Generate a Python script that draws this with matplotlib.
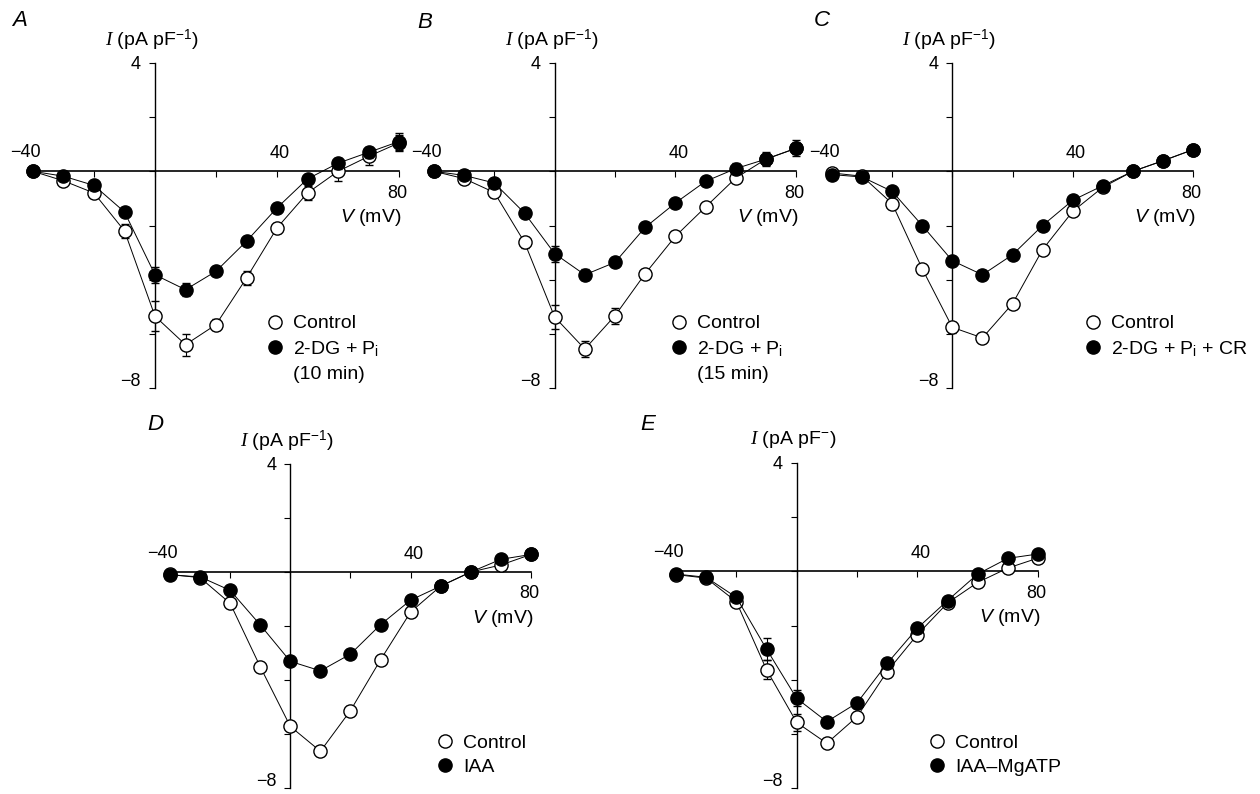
import numpy as np
import matplotlib
matplotlib.use('Agg')
import matplotlib.pyplot as plt
from matplotlib.lines import Line2D

plt.rcParams['font.family'] = ['Liberation Sans', 'DejaVu Sans']
plt.rcParams['mathtext.fontset'] = 'custom'
plt.rcParams['mathtext.rm'] = 'Liberation Sans'
plt.rcParams['mathtext.it'] = 'Liberation Serif:italic'
plt.rcParams['mathtext.sf'] = 'Liberation Sans:italic'

# test potentials (mV)
V = [-40, -30, -20, -10, 0, 10, 20, 30, 40, 50, 60, 70, 80]

# current density (pA/pF), mean and SEM
A_ctrl = [0.0, -0.35, -0.8, -2.2, -5.35, -6.4, -5.66, -3.94, -2.09, -0.8, 0.0, 0.55, 1.05]
A_ctrl_err = [0.05, 0.1, 0.15, 0.25, 0.55, 0.4, 0.2, 0.25, 0.2, 0.25, 0.35, 0.3, 0.3]
A_trt = [0.0, -0.18, -0.52, -1.5, -3.82, -4.37, -3.69, -2.58, -1.35, -0.28, 0.3, 0.7, 1.1]
A_trt_err = [0.05, 0.1, 0.1, 0.15, 0.3, 0.25, 0.15, 0.15, 0.15, 0.15, 0.2, 0.2, 0.3]

B_ctrl = [0.0, -0.27, -0.78, -2.62, -5.38, -6.56, -5.33, -3.78, -2.4, -1.32, -0.25, 0.45, 0.85]
B_ctrl_err = [0.05, 0.1, 0.15, 0.2, 0.45, 0.3, 0.3, 0.15, 0.15, 0.15, 0.15, 0.2, 0.2]
B_trt = [0.0, -0.15, -0.43, -1.54, -3.04, -3.82, -3.36, -2.07, -1.17, -0.37, 0.1, 0.45, 0.85]
B_trt_err = [0.05, 0.1, 0.1, 0.15, 0.3, 0.2, 0.15, 0.15, 0.15, 0.1, 0.2, 0.25, 0.3]

C_ctrl = [-0.06, -0.18, -1.19, -3.6, -5.76, -6.15, -4.89, -2.89, -1.48, -0.59, 0.0, 0.39, 0.8]
C_ctrl_err = [0.05, 0.05, 0.15, 0.15, 0.2, 0.15, 0.15, 0.15, 0.15, 0.1, 0.1, 0.1, 0.1]
C_trt = [-0.12, -0.21, -0.74, -2.0, -3.3, -3.82, -3.08, -2.0, -1.07, -0.53, 0.0, 0.39, 0.8]
C_trt_err = [0.05, 0.05, 0.1, 0.1, 0.15, 0.1, 0.1, 0.1, 0.1, 0.1, 0.1, 0.1, 0.1]

D_ctrl = [-0.09, -0.21, -1.16, -3.51, -5.72, -6.64, -5.13, -3.25, -1.48, -0.52, 0.0, 0.26, 0.65]
D_ctrl_err = [0.05, 0.05, 0.15, 0.15, 0.15, 0.15, 0.15, 0.15, 0.15, 0.1, 0.1, 0.1, 0.1]
D_trt = [-0.11, -0.18, -0.68, -1.96, -3.31, -3.66, -3.04, -1.95, -1.04, -0.52, 0.0, 0.47, 0.65]
D_trt_err = [0.05, 0.05, 0.1, 0.1, 0.15, 0.1, 0.1, 0.1, 0.1, 0.1, 0.1, 0.1, 0.1]

E_ctrl = [-0.12, -0.25, -1.12, -3.63, -5.58, -6.35, -5.37, -3.7, -2.34, -1.17, -0.41, 0.12, 0.49]
E_ctrl_err = [0.05, 0.05, 0.15, 0.36, 0.3, 0.15, 0.15, 0.15, 0.15, 0.1, 0.1, 0.1, 0.1]
E_trt = [-0.1, -0.22, -0.96, -2.87, -4.69, -5.55, -4.86, -3.4, -2.1, -1.08, -0.1, 0.48, 0.64]
E_trt_err = [0.05, 0.05, 0.1, 0.4, 0.3, 0.15, 0.15, 0.15, 0.15, 0.1, 0.1, 0.1, 0.1]

labels_trt = ['2-DG + P$_\\mathregular{i}$', '2-DG + P$_\\mathregular{i}$',
              '2-DG + P$_\\mathregular{i}$ + CR', 'IAA', 'IAA\u2013MgATP']
extra_line = ['(10 min)', '(15 min)', None, None, None]
ylabels = ['$\\mathit{I}$ (pA pF$^{-1}$)'] * 4 + ['$\\mathit{I}$ (pA pF$^{-}$)']
letters = ['A', 'B', 'C', 'D', 'E']

fig = plt.figure(figsize=(12.6, 7.94), dpi=100)
W, H = 1260, 794

# axes boxes in pixels: left (x=-40), right (x=80), top (y=4), bottom (y=-8)
boxes = [(33, 399, 63, 388), (434, 796, 63, 388), (832, 1193, 63, 388),
         (170, 531, 464, 788), (676, 1038, 463, 788)]
letter_pos = [(20, 20), (425, 22), (822, 20), (155, 425), (648, 425)]
legend_pos = [(0.637, 0.225), (0.652, 0.225), (0.698, 0.225), (0.737, 0.166), (0.696, 0.166)]

data = [(A_ctrl, A_ctrl_err, A_trt, A_trt_err), (B_ctrl, B_ctrl_err, B_trt, B_trt_err),
        (C_ctrl, C_ctrl_err, C_trt, C_trt_err), (D_ctrl, D_ctrl_err, D_trt, D_trt_err),
        (E_ctrl, E_ctrl_err, E_trt, E_trt_err)]

for i, (l, r, t, b) in enumerate(boxes):
    ax = fig.add_axes([l / W, (H - b) / H, (r - l) / W, (b - t) / H])
    ctrl, ctrl_err, trt, trt_err = data[i]

    ax.errorbar(V, ctrl, yerr=ctrl_err, color='black', lw=0.7, marker='o', ms=9.5,
                mfc='white', mec='black', mew=1.0, elinewidth=0.8, capsize=3, capthick=0.8,
                clip_on=False, zorder=3)
    ax.errorbar(V, trt, yerr=trt_err, color='black', lw=0.7, marker='o', ms=9.5,
                mfc='black', mec='black', mew=1.0, elinewidth=0.8, capsize=3, capthick=0.8,
                clip_on=False, zorder=4)

    ax.set_xlim(-40, 80)
    ax.set_ylim(-8, 4)
    ax.spines['left'].set_position(('data', 0))
    ax.spines['bottom'].set_position(('data', 0))
    ax.spines['top'].set_visible(False)
    ax.spines['right'].set_visible(False)
    ax.spines['left'].set_linewidth(1.0)
    ax.spines['bottom'].set_linewidth(1.2)
    ax.patch.set_visible(False)

    ax.set_yticks([-8, -6, -4, -2, 0, 2, 4])
    ax.set_yticklabels([])
    ax.set_xticks([-20, 0, 20, 40, 60, 80])
    ax.set_xticklabels([])
    ax.tick_params(axis='both', direction='out', length=4, width=0.8)

    # axis numbers placed as in the original figure
    ax.text(-4.6, 3.95, '4', ha='right', va='center', fontsize=13)
    ax.text(-4.6, -7.75, '\u22128', ha='right', va='center', fontsize=13)
    ax.text(-42.5, 0.68, '\u221240', ha='center', va='center', fontsize=13)
    ax.text(41, 0.65, '40', ha='center', va='center', fontsize=13)
    ax.text(79.5, -0.8, '80', ha='center', va='center', fontsize=13)
    ax.text(80.7, -1.72, '$\\mathsf{V}$ (mV)', ha='right', va='center', fontsize=14)
    ax.text(-1, 4.85, ylabels[i], ha='center', va='center', fontsize=14)

    fig.text(letter_pos[i][0] / W, 1 - letter_pos[i][1] / H, letters[i],
             fontsize=16, style='italic', ha='center', va='center')

    handles = [Line2D([], [], ls='none', marker='o', ms=9.5, mfc='white', mec='black', mew=1.0),
               Line2D([], [], ls='none', marker='o', ms=9.5, mfc='black', mec='black', mew=1.0)]
    labs = ['Control', labels_trt[i]]
    if extra_line[i]:
        handles.append(Line2D([], [], ls='none'))
        labs.append(extra_line[i])
    ax.legend(handles, labs, loc='upper left', bbox_to_anchor=legend_pos[i],
              frameon=False, fontsize=14, handlelength=0.95, handletextpad=0.45,
              labelspacing=0.33, borderpad=0, borderaxespad=0)

fig.savefig('out.png', dpi=100)
